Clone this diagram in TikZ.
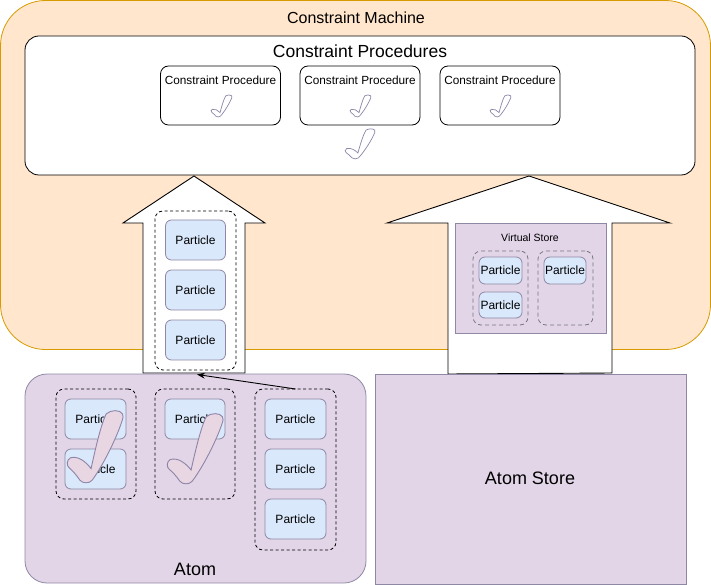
\documentclass[tikz,border=0pt]{standalone}
\usepackage{fontspec}
\setmainfont{Liberation Sans}
\usetikzlibrary{arrows.meta}
\definecolor{cmfill}{HTML}{FFE6CC}
\definecolor{cmstroke}{HTML}{D79B00}
\definecolor{purfill}{HTML}{E1D5E7}
\definecolor{purstroke}{HTML}{8F88A4}
\definecolor{partfill}{HTML}{DAE8FC}
\definecolor{checkfill}{HTML}{E9D6E3}
\definecolor{checkstroke}{HTML}{8E84A8}
\definecolor{vsdash}{HTML}{77777F}
\newcommand\mycheck[5]{%
 \begin{scope}[shift={(#1,#2)},xscale=#3,yscale=#4]
 \draw[#5] (0.43,0.8) .. controls (0.5,0.55) and (0.6,0.2) .. (0.7,0.04)
 .. controls (0.78,-0.02) and (0.95,-0.02) .. (0.99,0.04)
 .. controls (1.01,0.07) and (1.0,0.1) .. (0.99,0.12)
 .. controls (0.9,0.35) and (0.65,0.75) .. (0.45,0.96)
 .. controls (0.4,1.01) and (0.28,1.01) .. (0.23,0.96)
 .. controls (0.16,0.88) and (0.1,0.83) .. (0.04,0.79)
 .. controls (-0.01,0.76) and (-0.01,0.68) .. (0.06,0.65)
 .. controls (0.2,0.62) and (0.33,0.7) .. (0.43,0.8) -- cycle;
 \end{scope}}
\tikzset{
  box/.style={draw, inner sep=0pt, outer sep=0pt, line width=0.8pt},
  fs/.style={font=\fontsize{#1}{#1}\selectfont},
  particle/.style={box, draw=purstroke, fill=partfill, rounded corners=6pt, fs=12},
  grp/.style={box, draw=black, dash pattern=on 3pt off 2.5pt, rounded corners=8pt},
  cpbox/.style={box, fill=white, rounded corners=8pt, minimum width=120pt, minimum height=59pt},
  bigarrow/.style={draw=black, fill=white, line width=0.9pt, line join=miter},
  outlinecheck/.style={draw=checkstroke, fill=white, line width=0.7pt},
  filledcheck/.style={draw=checkstroke, fill=checkfill, line width=0.9pt},
}
\begin{document}
\begin{tikzpicture}[x=1pt,y=-1pt]
\useasboundingbox (0,0) rectangle (711,585);
% Constraint machine
\node[box, draw=cmstroke, fill=cmfill, rounded corners=45pt, minimum width=710pt, minimum height=349pt] (cm) at (355.5,175) {};
\node[fs=16] (cmlabel) at (356,17.5) {Constraint Machine};
% Constraint procedures
\node[box, fill=white, rounded corners=14pt, minimum width=670pt, minimum height=139pt] (cps) at (360,105.5) {};
\node[fs=17.5] (cpslabel) at (360,51) {Constraint Procedures};
\node[cpbox] (cp1) at (220.5,95.5) {};
\node[cpbox] (cp2) at (360,95.5) {};
\node[cpbox] (cp3) at (500,95.5) {};
\node[fs=11.8] (cp1l) at (220.5,80) {Constraint Procedure};
\node[fs=11.8] (cp2l) at (360,80) {Constraint Procedure};
\node[fs=11.8] (cp3l) at (500,80) {Constraint Procedure};
\mycheck{211}{95}{21}{22}{outlinecheck}
\mycheck{350}{95}{21}{22}{outlinecheck}
\mycheck{490}{95}{21}{22}{outlinecheck}
\mycheck{345}{129}{30}{30}{outlinecheck}
% Big arrows
\draw[bigarrow] (143,373) -- (143,223) -- (123,223) -- (194,176) -- (265,223) -- (245,223) -- (245,373) -- cycle;
\draw[bigarrow] (448,374) -- (448,223) -- (387,223) -- (529,176) -- (670,223) -- (612,223) -- (612,373) -- cycle;
% left arrow content
\node[grp, minimum width=81pt, minimum height=159pt] (lg) at (195.5,290.5) {};
\node[particle, minimum width=60pt, minimum height=40pt] (lp1) at (195.5,240) {Particle};
\node[particle, minimum width=60pt, minimum height=40pt] (lp2) at (195.5,290) {Particle};
\node[particle, minimum width=60pt, minimum height=40pt] (lp3) at (195.5,340) {Particle};
% virtual store
\node[box, draw=purstroke, fill=purfill, minimum width=151pt, minimum height=110pt] (vs) at (530.5,278) {};
\node[fs=10.5] (vslabel) at (530,238) {Virtual Store};
\node[grp, draw=vsdash, dash pattern=on 4pt off 3pt, minimum width=55pt, minimum height=74pt] (vg1) at (500.5,288) {};
\node[grp, draw=vsdash, dash pattern=on 4pt off 3pt, minimum width=55pt, minimum height=74pt] (vg2) at (565.5,288) {};
\node[particle, minimum width=43pt, minimum height=27pt] (vp1) at (500.5,270.5) {Particle};
\node[particle, minimum width=43pt, minimum height=26pt] (vp2) at (500.5,305) {Particle};
\node[particle, minimum width=42pt, minimum height=27pt] (vp3) at (565,270.5) {Particle};
% Atom
\node[box, draw=purstroke, fill=purfill, rounded corners=22pt, minimum width=341pt, minimum height=209pt] (atom) at (195.5,478.5) {};
\node[fs=18] (atomlabel) at (195,569) {Atom};
\node[grp, minimum width=80pt, minimum height=110pt] (g1) at (96,444) {};
\node[grp, minimum width=80pt, minimum height=110pt] (g2) at (195,444) {};
\node[grp, minimum width=81pt, minimum height=161pt] (g3) at (295.5,469.5) {};
\node[particle, minimum width=61pt, minimum height=40pt] (ap1) at (95.5,419) {Particle};
\node[particle, minimum width=61pt, minimum height=40pt] (ap2) at (95.5,469) {Particle};
\node[particle, minimum width=60pt, minimum height=40pt] (ap3) at (195,419) {Particle};
\node[particle, minimum width=61pt, minimum height=40pt] (ap4) at (295.5,419) {Particle};
\node[particle, minimum width=61pt, minimum height=40pt] (ap5) at (295.5,469) {Particle};
\node[particle, minimum width=61pt, minimum height=40pt] (ap6) at (295.5,519) {Particle};
\mycheck{67}{411}{56}{72}{filledcheck}
\mycheck{167}{414}{56}{70}{filledcheck}
% Atom store
\node[box, draw=purstroke, fill=purfill, minimum width=311pt, minimum height=210pt] (as) at (530.5,479) {};
\node[fs=18] (aslabel) at (530,478) {Atom Store};
% connector
\coordinate (labot) at (197,374.5);
\draw[line width=0.9pt, -{Stealth[length=8pt,width=6pt]}] (g3.north) -- (labot);
\end{tikzpicture}
\end{document}
